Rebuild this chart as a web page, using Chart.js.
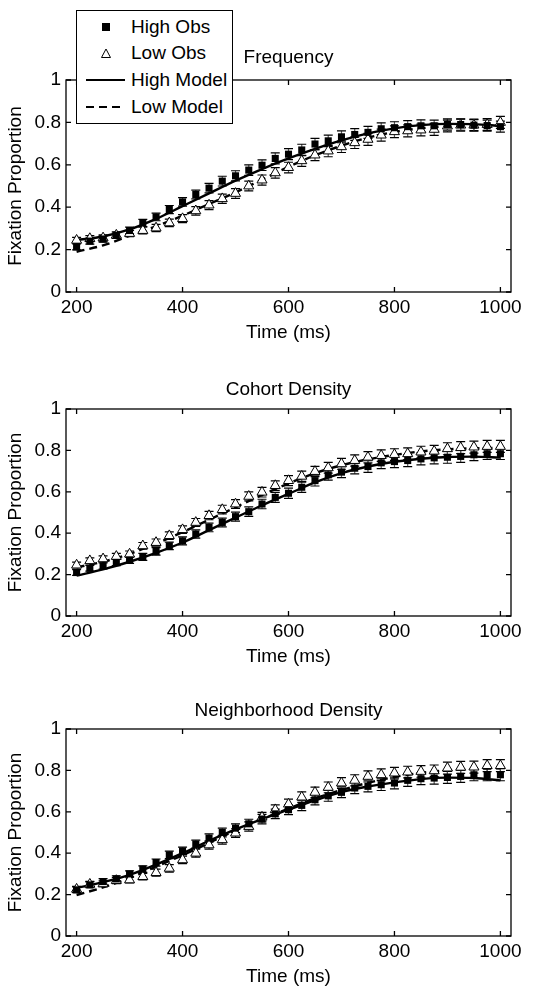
<!DOCTYPE html>
<html>
<head>
<meta charset="utf-8">
<script src="https://cdn.jsdelivr.net/npm/chart.js@4.4.1/dist/chart.umd.min.js"></script>
<style>
  body { margin: 0; width: 534px; height: 986px; position: relative; overflow: hidden; background: #fff; font-family: "Liberation Sans", Arial, sans-serif; }
  .panel { position: absolute; left: 0; }
  #legend { position: absolute; left: 76px; top: 10px; width: 155px; height: 110px; border: 1px solid #000; background: #fff; z-index: 2; padding-top: 2px; box-sizing: content-box; }
  #legend .row { height: 26.7px; line-height: 26.7px; font-size: 19px; white-space: nowrap; }
  #legend svg { width: 50px; height: 26px; vertical-align: middle; margin-left: 6px; }
  #legend span { vertical-align: middle; margin-left: -2px; }
</style>
</head>
<body>
<div id="legend"></div>
<canvas id="c1" class="panel"></canvas>
<canvas id="c2" class="panel"></canvas>
<canvas id="c3" class="panel"></canvas>
<script>
// time points (ms)
const times = [200,225,250,275,300,325,350,375,400,425,450,475,500,525,550,575,600,625,650,675,700,725,750,775,800,825,850,875,900,925,950,975,1000];
const modelTimes = [200,250,300,350,400,450,500,550,600,650,700,750,800,850,900,950,1000];
const xTicks = [200,400,600,800,1000];
const yTicks = [0,0.2,0.4,0.6,0.8,1];
const seriesNames = ['High Obs','Low Obs','High Model','Low Model'];
const panelTitles = ['Frequency','Cohort Density','Neighborhood Density'];

// Frequency
const freqHighObs = [0.213,0.24,0.25,0.268,0.29,0.326,0.354,0.389,0.425,0.46,0.49,0.523,0.548,0.575,0.598,0.63,0.65,0.67,0.698,0.713,0.732,0.743,0.753,0.77,0.775,0.78,0.784,0.784,0.79,0.79,0.787,0.785,0.78];
const freqLowObs = [0.244,0.252,0.255,0.268,0.276,0.29,0.302,0.326,0.346,0.383,0.41,0.44,0.465,0.5,0.528,0.562,0.587,0.619,0.646,0.665,0.685,0.704,0.72,0.74,0.756,0.76,0.764,0.767,0.783,0.787,0.787,0.79,0.8];
const freqHighModel = [0.245,0.262,0.295,0.345,0.405,0.465,0.525,0.58,0.63,0.675,0.715,0.748,0.772,0.787,0.793,0.792,0.783];
const freqLowModel = [0.19,0.22,0.265,0.31,0.36,0.415,0.47,0.53,0.59,0.645,0.69,0.728,0.755,0.772,0.782,0.786,0.787];
const freqHighErr = [0.014,0.014,0.015,0.015,0.016,0.017,0.018,0.019,0.02,0.021,0.022,0.023,0.024,0.025,0.025,0.026,0.026,0.027,0.027,0.027,0.028,0.028,0.028,0.028,0.028,0.028,0.028,0.027,0.027,0.027,0.026,0.026,0.026];
const freqLowErr = [0.014,0.014,0.014,0.015,0.015,0.016,0.017,0.018,0.019,0.02,0.021,0.022,0.023,0.023,0.024,0.025,0.025,0.026,0.026,0.027,0.027,0.027,0.028,0.028,0.028,0.028,0.028,0.028,0.028,0.028,0.028,0.028,0.028];

// Cohort Density
const cohHighObs = [0.21,0.231,0.242,0.258,0.27,0.286,0.312,0.339,0.363,0.396,0.428,0.452,0.48,0.504,0.541,0.573,0.593,0.622,0.654,0.682,0.695,0.714,0.722,0.74,0.746,0.751,0.759,0.764,0.767,0.771,0.779,0.784,0.784];
const cohLowObs = [0.246,0.267,0.276,0.288,0.299,0.339,0.355,0.388,0.417,0.452,0.485,0.514,0.541,0.578,0.598,0.63,0.654,0.675,0.698,0.716,0.735,0.751,0.767,0.775,0.78,0.784,0.792,0.796,0.808,0.813,0.816,0.819,0.819];
const cohHighModel = [0.195,0.225,0.262,0.305,0.355,0.415,0.475,0.535,0.59,0.645,0.69,0.722,0.745,0.76,0.768,0.77,0.765];
const cohLowModel = [0.235,0.262,0.3,0.35,0.405,0.465,0.525,0.585,0.64,0.69,0.728,0.757,0.778,0.795,0.805,0.81,0.812];
const cohHighErr = [0.014,0.014,0.015,0.015,0.016,0.017,0.018,0.018,0.019,0.02,0.021,0.021,0.022,0.023,0.023,0.024,0.025,0.025,0.026,0.026,0.027,0.027,0.028,0.028,0.029,0.029,0.029,0.029,0.029,0.029,0.028,0.028,0.028];
const cohLowErr = [0.014,0.014,0.014,0.015,0.015,0.016,0.017,0.018,0.018,0.019,0.02,0.021,0.021,0.022,0.023,0.023,0.024,0.025,0.025,0.026,0.026,0.027,0.027,0.028,0.028,0.028,0.028,0.028,0.029,0.029,0.029,0.029,0.029];

// Neighborhood Density
const nbHighObs = [0.223,0.247,0.263,0.276,0.3,0.323,0.355,0.392,0.411,0.444,0.473,0.5,0.521,0.542,0.565,0.59,0.61,0.631,0.658,0.677,0.694,0.715,0.723,0.731,0.739,0.752,0.76,0.763,0.766,0.771,0.779,0.779,0.779];
const nbLowObs = [0.226,0.25,0.252,0.268,0.271,0.287,0.306,0.327,0.368,0.4,0.44,0.465,0.497,0.529,0.574,0.61,0.637,0.671,0.694,0.718,0.739,0.752,0.771,0.779,0.787,0.792,0.795,0.798,0.811,0.815,0.816,0.823,0.823];
const nbHighModel = [0.232,0.26,0.295,0.345,0.4,0.46,0.515,0.565,0.61,0.655,0.695,0.722,0.742,0.758,0.765,0.763,0.752];
const nbLowModel = [0.198,0.235,0.28,0.335,0.39,0.45,0.51,0.565,0.615,0.665,0.705,0.74,0.768,0.788,0.8,0.807,0.81];
const nbHighErr = [0.014,0.014,0.014,0.015,0.015,0.016,0.017,0.018,0.018,0.019,0.02,0.021,0.021,0.022,0.023,0.023,0.024,0.025,0.025,0.026,0.026,0.027,0.027,0.028,0.028,0.029,0.029,0.029,0.029,0.029,0.029,0.029,0.029];
const nbLowErr = [0.014,0.014,0.014,0.015,0.015,0.016,0.017,0.018,0.018,0.019,0.02,0.021,0.021,0.022,0.023,0.023,0.024,0.025,0.025,0.026,0.026,0.027,0.027,0.028,0.028,0.028,0.028,0.028,0.029,0.029,0.029,0.029,0.029];

const FONT = '"Liberation Sans", Arial, sans-serif';
Chart.defaults.font.family = FONT;
Chart.defaults.font.size = 19;
Chart.defaults.color = '#000';

const pts = (xs, ys) => xs.map((x, i) => ({ x: x, y: ys[i] }));

// error bars drawn behind the markers
const errorBars = {
  id: 'errorBars',
  beforeDatasetsDraw(chart) {
    const ctx = chart.ctx, xs = chart.scales.x, ys = chart.scales.y;
    ctx.save();
    chart.data.datasets.forEach(ds => {
      if (!ds.err) return;
      ds.data.forEach((p, i) => {
        const px = xs.getPixelForValue(p.x);
        const top = ys.getPixelForValue(p.y + ds.err[i]);
        const bot = ys.getPixelForValue(p.y - ds.err[i]);
        ctx.strokeStyle = '#555';
        ctx.lineWidth = 1.2;
        ctx.beginPath(); ctx.moveTo(px, top); ctx.lineTo(px, bot); ctx.stroke();
        ctx.strokeStyle = '#000';
        ctx.beginPath();
        ctx.moveTo(px - 4.5, top); ctx.lineTo(px + 4.5, top);
        ctx.moveTo(px - 4.5, bot); ctx.lineTo(px + 4.5, bot);
        ctx.stroke();
      });
    });
    ctx.restore();
  }
};

// matlab-like box with inward ticks, title centred over the axes
const boxAxes = {
  id: 'boxAxes',
  afterDraw(chart, args, opts) {
    const ctx = chart.ctx, a = chart.chartArea, xs = chart.scales.x, ys = chart.scales.y;
    ctx.save();
    ctx.strokeStyle = '#000';
    ctx.lineWidth = 1.3;
    ctx.strokeRect(a.left, a.top, a.right - a.left, a.bottom - a.top);
    ctx.beginPath();
    xTicks.forEach(v => {
      const px = xs.getPixelForValue(v);
      ctx.moveTo(px, a.bottom); ctx.lineTo(px, a.bottom - 5);
      ctx.moveTo(px, a.top); ctx.lineTo(px, a.top + 5);
    });
    yTicks.forEach(v => {
      const py = ys.getPixelForValue(v);
      ctx.moveTo(a.left, py); ctx.lineTo(a.left + 5, py);
      ctx.moveTo(a.right, py); ctx.lineTo(a.right - 5, py);
    });
    ctx.stroke();
    ctx.fillStyle = '#000';
    ctx.font = '19px ' + FONT;
    ctx.textAlign = 'center';
    ctx.textBaseline = 'middle';
    ctx.fillText(opts.text, (a.left + a.right) / 2, a.top - opts.gap);
    ctx.restore();
  }
};

function makePanel(id, top, chartH, gap, title, hiObs, loObs, hiModel, loModel, hiErr, loErr) {
  const head = 62, foot = 53;
  const cv = document.getElementById(id);
  cv.width = 534; cv.height = head + chartH + foot;
  cv.style.top = (top - head) + 'px';
  return new Chart(cv, {
    type: 'line',
    data: {
      datasets: [
        { label: seriesNames[0], data: pts(times, hiObs), err: hiErr, showLine: false,
          pointStyle: 'rect', pointRadius: 5, backgroundColor: '#000', borderColor: '#000', pointBorderWidth: 0 },
        { label: seriesNames[1], data: pts(times, loObs), err: loErr, showLine: false,
          pointStyle: 'triangle', pointRadius: 5.8, backgroundColor: '#fff', borderColor: '#000', pointBorderWidth: 1 },
        { label: seriesNames[2], data: pts(modelTimes, hiModel), borderColor: '#000', borderWidth: 2.4,
          pointRadius: 0, cubicInterpolationMode: 'monotone' },
        { label: seriesNames[3], data: pts(modelTimes, loModel), borderColor: '#000', borderWidth: 2.4,
          borderDash: [8, 5], pointRadius: 0, cubicInterpolationMode: 'monotone' }
      ]
    },
    options: {
      responsive: false,
      animation: false,
      layout: { padding: { left: 0, right: 23, top: head, bottom: 0 } },
      plugins: {
        legend: { display: false },
        tooltip: { enabled: false },
        title: { display: false },
        boxAxes: { text: title, gap: gap }
      },
      scales: {
        x: {
          type: 'linear', min: 180, max: 1020,
          afterBuildTicks: s => { s.ticks = xTicks.map(v => ({ value: v })); },
          afterFit: s => { s.height = foot; },
          grid: { display: false, drawTicks: false },
          border: { display: false },
          ticks: { padding: 4, maxRotation: 0, font: { size: 19 }, callback: v => String(v) },
          title: { display: true, text: 'Time (ms)', font: { size: 19 }, padding: { top: 0, bottom: 0.6 } }
        },
        y: {
          type: 'linear', min: 0, max: 1,
          afterBuildTicks: s => { s.ticks = yTicks.map(v => ({ value: v })); },
          afterFit: s => { s.width = 66; },
          grid: { display: false, drawTicks: false },
          border: { display: false },
          ticks: { padding: 5, font: { size: 19 }, callback: v => String(v) },
          title: { display: true, text: 'Fixation Proportion', font: { size: 19 }, padding: { top: 4.6, bottom: 0 } }
        }
      }
    },
    plugins: [errorBars, boxAxes]
  });
}

const ch1 = makePanel('c1', 80, 212, 22, panelTitles[0], freqHighObs, freqLowObs, freqHighModel, freqLowModel, freqHighErr, freqLowErr);
makePanel('c2', 409, 207, 19, panelTitles[1], cohHighObs, cohLowObs, cohHighModel, cohLowModel, cohHighErr, cohLowErr);
makePanel('c3', 729, 207, 18, panelTitles[2], nbHighObs, nbLowObs, nbHighModel, nbLowModel, nbHighErr, nbLowErr);

// legend box for the top panel, labels taken from the datasets
const symbols = [
  '<rect x="19" y="9" width="8" height="8" fill="#000"/>',
  '<polygon points="23,8 27.5,16.5 18.5,16.5" fill="#fff" stroke="#000" stroke-width="1"/>',
  '<line x1="3" y1="13" x2="42" y2="13" stroke="#000" stroke-width="2"/>',
  '<line x1="3" y1="13" x2="42" y2="13" stroke="#000" stroke-width="2" stroke-dasharray="8,5"/>'
];
document.getElementById('legend').innerHTML = ch1.data.datasets.map((ds, i) =>
  '<div class="row"><svg viewBox="0 0 50 26">' + symbols[i] + '</svg><span>' + ds.label + '</span></div>'
).join('');
</script>
</body>
</html>
